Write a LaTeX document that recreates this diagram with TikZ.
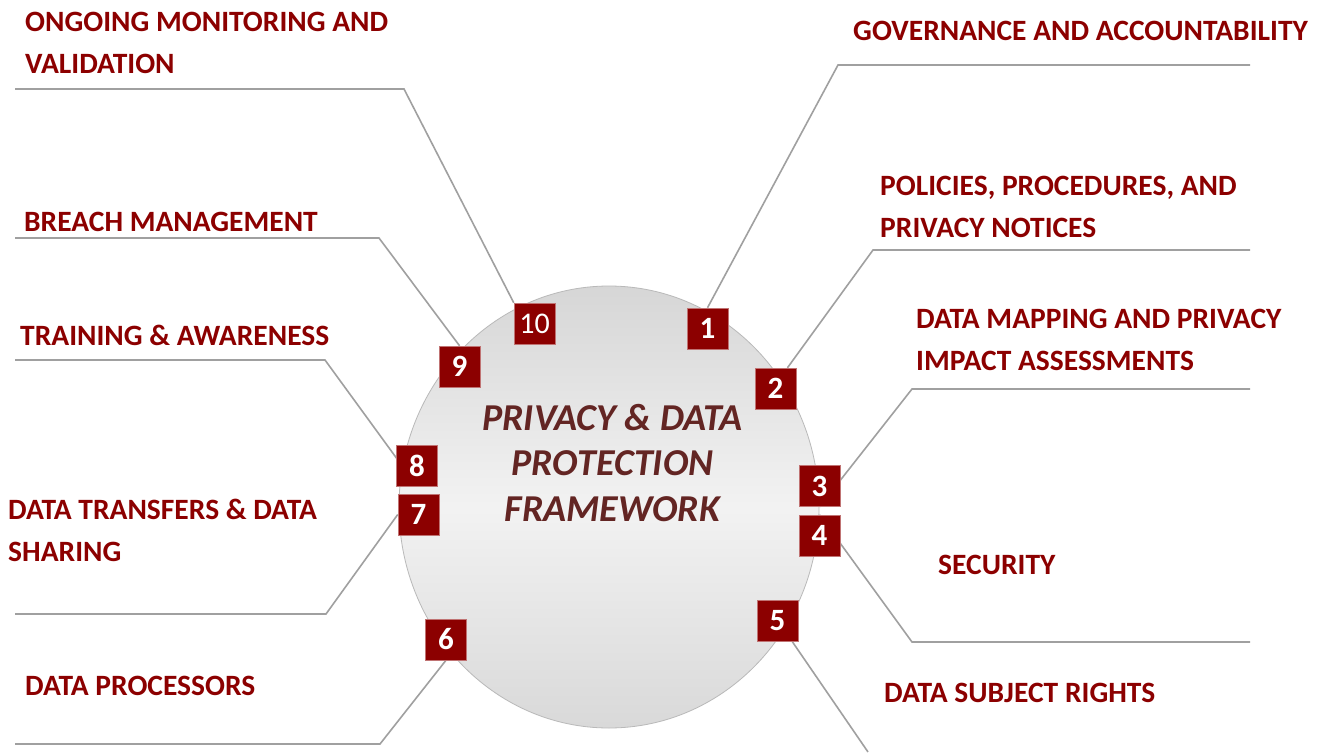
\documentclass[tikz,border=0pt]{standalone}
\usepackage{fontspec}
\setmainfont{Carlito}
\usetikzlibrary{shapes.geometric,backgrounds}
\definecolor{labelred}{RGB}{140,0,0}
\definecolor{boxred}{RGB}{140,0,0}
\definecolor{titlered}{RGB}{99,37,35}
\definecolor{linegray}{RGB}{160,160,160}
\definecolor{hubedge}{RGB}{185,185,185}

\begin{document}
\begin{tikzpicture}[x=1pt,y=-1pt,
    numbox/.style={draw=boxred!55!white, line width=0.5pt, fill=boxred, text=white,
        minimum size=41pt, inner sep=0pt, font=\fontsize{31}{31}\selectfont\bfseries},
    topic/.style={anchor=base west, align=left, inner sep=0pt, text=labelred,
        font=\fontsize{29.5}{42}\selectfont\bfseries},
    conn/.style={draw=linegray, line width=1.6pt}]
    \useasboundingbox (0,0) rectangle (1322,752);

    % numbered boxes around the hub
    \node[numbox, font=\fontsize{30}{30}\selectfont] (b10) at (534.5,323.5) {10};
    \node[numbox] (b1) at (707.5,328.5) {1};
    \node[numbox] (b2) at (775.5,388.5) {2};
    \node[numbox] (b3) at (819.5,486) {3};
    \node[numbox] (b4) at (819.5,535.5) {4};
    \node[numbox] (b5) at (777.5,620.5) {5};
    \node[numbox] (b6) at (446,639.5) {6};
    \node[numbox] (b7) at (418.5,514.5) {7};
    \node[numbox] (b8) at (417,465.5) {8};
    \node[numbox] (b9) at (459.5,366.5) {9};

    % centre title (base = last line)
    \node[anchor=base, align=center, inner sep=0pt, text=titlered,
        font=\fontsize{38}{45.5}\selectfont\bfseries\itshape] (title) at (612.5,521)
        {PRIVACY \& DATA\\PROTECTION\\FRAMEWORK};

    % topic labels (two-line ones sit on their second baseline)
    \node[topic] (t10) at (25,73.5) {ONGOING MONITORING AND\\VALIDATION};
    \node[topic] (t1) at (853,40.5) {GOVERNANCE AND ACCOUNTABILITY};
    \node[topic] (t2) at (880,237.5) {POLICIES, PROCEDURES, AND\\PRIVACY NOTICES};
    \node[topic] (t3) at (916,370.5) {DATA MAPPING AND PRIVACY\\IMPACT ASSESSMENTS};
    \node[topic] (t4) at (938,574.5) {SECURITY};
    \node[topic] (t5) at (884,702.5) {DATA SUBJECT RIGHTS};
    \node[topic] (t9) at (24,231.5) {BREACH MANAGEMENT};
    \node[topic] (t8) at (20,345.5) {TRAINING \& AWARENESS};
    \node[topic] (t7) at (8,561) {DATA TRANSFERS \& DATA\\SHARING};
    \node[topic] (t6) at (25,695.5) {DATA PROCESSORS};

    % leader lines: free end, bend, box
    \coordinate (e1) at (1250,65);   \coordinate (k1) at (838,65);
    \coordinate (e2) at (1250,250);  \coordinate (k2) at (873,250);
    \coordinate (e3) at (1250,389);  \coordinate (k3) at (912,389);
    \coordinate (e4) at (1250,642);  \coordinate (k4) at (912,642);
    \coordinate (e5) at (868,752);
    \coordinate (e6) at (15,744);    \coordinate (k6) at (380,744);
    \coordinate (e7) at (15,614);    \coordinate (k7) at (326,614);
    \coordinate (e8) at (15,360);    \coordinate (k8) at (325,360);
    \coordinate (e9) at (15,238);    \coordinate (k9) at (379,238);
    \coordinate (e10) at (15,89);    \coordinate (k10) at (404,89);

    \begin{pgfonlayer}{background}
        \fill[white] (0,0) rectangle (1322,752);
        \node[ellipse, minimum width=420pt, minimum height=442pt, inner sep=0pt,
            top color=black!16, bottom color=black!15, middle color=black!5,
            draw=hubedge, line width=0.8pt] (hub) at (609,507) {};
        \draw[conn] (e1) -- (k1) -- (b1.north);
        \draw[conn] (e2) -- (k2) -- (b2.60);
        \draw[conn] (e3) -- (k3) -- (b3.south);
        \draw[conn] (e4) -- (k4) -- (b4.north);
        \draw[conn] (b5.-55) -- (e5);
        \draw[conn] (e6) -- (k6) -- (b6.south);
        \draw[conn] (e7) -- (k7) -- (b7.west);
        \draw[conn] (e8) -- (k8) -- (b8.south);
        \draw[conn] (e9) -- (k9) -- (b9.north);
        \draw[conn] (e10) -- (k10) -- (b10.north west);
    \end{pgfonlayer}
\end{tikzpicture}
\end{document}
